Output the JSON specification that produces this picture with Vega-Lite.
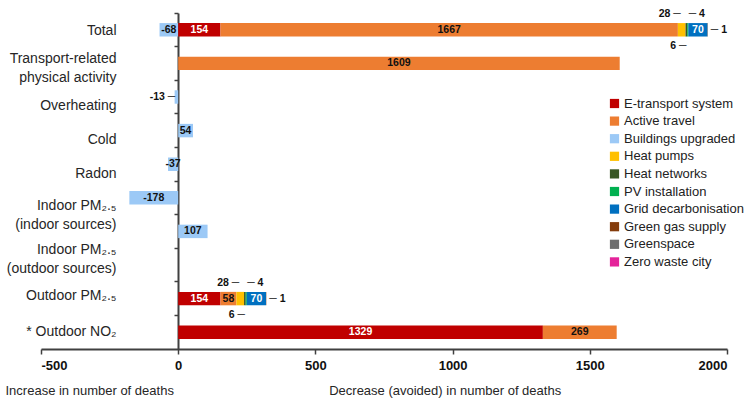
{
  "$schema": "https://vega.github.io/schema/vega-lite/v6.json",
  "autosize": {"type": "none"},
  "width": 686,
  "height": 336,
  "padding": {"left": 41, "top": 13, "right": 25, "bottom": 58},
  "config": {
    "font": "Liberation Sans",
    "view": {"stroke": null},
    "axis": {"grid": false}
  },
  "data": {
    "values": [
      {"cat": "Total", "series": "Buildings upgraded", "v": -68},
      {"cat": "Total", "series": "E-transport system", "v": 154},
      {"cat": "Total", "series": "Active travel", "v": 1667},
      {"cat": "Total", "series": "Heat pumps", "v": 28},
      {"cat": "Total", "series": "Heat networks", "v": 6},
      {"cat": "Total", "series": "PV installation", "v": 4},
      {"cat": "Total", "series": "Grid decarbonisation", "v": 70},
      {"cat": "Total", "series": "Green gas supply", "v": 1},
      {"cat": "Transport-related|physical activity", "series": "Active travel", "v": 1609},
      {"cat": "Overheating", "series": "Buildings upgraded", "v": -13},
      {"cat": "Cold", "series": "Buildings upgraded", "v": 54},
      {"cat": "Radon", "series": "Buildings upgraded", "v": -37},
      {"cat": "Indoor PM₂.₅|(indoor sources)", "series": "Buildings upgraded", "v": -178},
      {"cat": "Indoor PM₂.₅|(outdoor sources)", "series": "Buildings upgraded", "v": 107},
      {"cat": "Outdoor PM₂.₅", "series": "E-transport system", "v": 154},
      {"cat": "Outdoor PM₂.₅", "series": "Active travel", "v": 58},
      {"cat": "Outdoor PM₂.₅", "series": "Heat pumps", "v": 28},
      {"cat": "Outdoor PM₂.₅", "series": "Heat networks", "v": 6},
      {"cat": "Outdoor PM₂.₅", "series": "PV installation", "v": 4},
      {"cat": "Outdoor PM₂.₅", "series": "Grid decarbonisation", "v": 70},
      {"cat": "Outdoor PM₂.₅", "series": "Green gas supply", "v": 1},
      {"cat": "* Outdoor NO₂", "series": "E-transport system", "v": 1329},
      {"cat": "* Outdoor NO₂", "series": "Active travel", "v": 269}
    ]
  },
  "transform": [
    {"calculate": "indexof(['E-transport system','Active travel','Buildings upgraded','Heat pumps','Heat networks','PV installation','Grid decarbonisation','Green gas supply','Greenspace','Zero waste city'], datum.series)", "as": "ord"},
    {"stack": "v", "groupby": ["cat"], "sort": [{"field": "ord", "order": "ascending"}], "as": ["x0", "x1"]},
    {"calculate": "(datum.x0 + datum.x1) / 2", "as": "mid"},
    {"calculate": "'' + datum.v", "as": "num"}
  ],
  "layer": [
    {
      "encoding": {
        "y": {
          "field": "cat",
          "type": "nominal",
          "scale": {
            "domain": ["Total", "Transport-related|physical activity", "Overheating", "Cold", "Radon", "Indoor PM₂.₅|(indoor sources)", "Indoor PM₂.₅|(outdoor sources)", "gap", "Outdoor PM₂.₅", "* Outdoor NO₂"],
            "paddingInner": 0,
            "paddingOuter": 0
          },
          "axis": {
            "orient": "left",
            "offset": -137,
            "labels": false,
            "ticks": true,
            "bandPosition": 0,
            "tickSize": 4,
            "tickWidth": 1.5,
            "tickColor": "#404040",
            "domain": true,
            "domainColor": "#404040",
            "domainWidth": 2,
            "title": null
          }
        }
      },
      "layer": [
        {
          "mark": {"type": "bar", "height": {"band": 0.4}},
          "encoding": {
            "x": {
              "field": "x0",
              "type": "quantitative",
              "scale": {"domain": [-500, 2000], "nice": false},
              "axis": {
                "values": [-500, 0, 500, 1000, 1500, 2000],
                "labelExpr": "'' + datum.value",
                "labelFontWeight": "bold",
                "labelFontSize": 13,
                "labelColor": "#111111",
                "labelPadding": 5,
                "tickSize": 5,
                "tickWidth": 1.5,
                "tickColor": "#404040",
                "domainColor": "#404040",
                "domainWidth": 2,
                "title": "Increase in number of deaths\u00a0\u00a0\u00a0\u00a0\u00a0\u00a0\u00a0\u00a0\u00a0\u00a0\u00a0\u00a0\u00a0\u00a0\u00a0\u00a0\u00a0\u00a0\u00a0\u00a0\u00a0\u00a0\u00a0\u00a0\u00a0\u00a0\u00a0\u00a0\u00a0\u00a0\u00a0\u00a0\u00a0\u00a0\u00a0\u00a0\u00a0\u00a0\u00a0\u00a0\u00a0\u00a0\u00a0Decrease (avoided) in number of deaths",
                "titleFontWeight": "normal",
                "titleFontSize": 13,
                "titleColor": "#262626",
                "titleAnchor": "start",
                "titleAlign": "left",
                "titleX": -36,
                "titleY": 41,
                "titleBaseline": "middle"
              }
            },
            "x2": {"field": "x1"},
            "color": {
              "field": "series",
              "type": "nominal",
              "scale": {
                "domain": ["E-transport system", "Active travel", "Buildings upgraded", "Heat pumps", "Heat networks", "PV installation", "Grid decarbonisation", "Green gas supply", "Greenspace", "Zero waste city"],
                "range": ["#C00000", "#ED7D31", "#9CC9F6", "#FFC000", "#375623", "#00B050", "#0070C0", "#843C0C", "#6E6E6E", "#E4239A"]
              },
              "legend": {
                "orient": "none",
                "legendX": 567,
                "legendY": 84,
                "direction": "vertical",
                "title": null,
                "padding": 0,
                "symbolType": "square",
                "symbolSize": 85,
                "symbolStrokeWidth": 0,
                "labelFontSize": 13,
                "labelColor": "#222222",
                "labelOffset": 3,
                "rowPadding": 3.6
              }
            }
          }
        },
        {
          "mark": {"type": "rule", "color": "#404040", "strokeWidth": 2},
          "encoding": {"x": {"datum": 0, "type": "quantitative"}}
        },
        {
          "transform": [{"filter": "abs(datum.v) > 30"}],
          "mark": {"type": "text", "fontSize": 10.5, "fontWeight": "bold", "align": "center", "baseline": "middle"},
          "encoding": {
            "x": {"field": "mid", "type": "quantitative"},
            "text": {"field": "num"},
            "color": {"condition": {"test": "datum.series === 'E-transport system' || datum.series === 'Grid decarbonisation'", "value": "#FFFFFF"}, "value": "#111111"}
          }
        },
        {
          "transform": [{"filter": "datum.series === 'Heat pumps'"}, {"calculate": "datum.num + ' ─'", "as": "lbl"}],
          "mark": {"type": "text", "fontSize": 10.5, "fontWeight": "bold", "align": "right", "baseline": "middle", "dx": -1, "dy": -16, "color": "#111111"},
          "encoding": {"x": {"field": "mid", "type": "quantitative"}, "text": {"field": "lbl"}}
        },
        {
          "transform": [{"filter": "datum.series === 'PV installation'"}, {"calculate": "'─ ' + datum.num", "as": "lbl"}],
          "mark": {"type": "text", "fontSize": 10.5, "fontWeight": "bold", "align": "left", "baseline": "middle", "dx": 1, "dy": -16, "color": "#111111"},
          "encoding": {"x": {"field": "mid", "type": "quantitative"}, "text": {"field": "lbl"}}
        },
        {
          "transform": [{"filter": "datum.series === 'Heat networks'"}, {"calculate": "datum.num + ' ─'", "as": "lbl"}],
          "mark": {"type": "text", "fontSize": 10.5, "fontWeight": "bold", "align": "right", "baseline": "middle", "dx": 0, "dy": 16, "color": "#111111"},
          "encoding": {"x": {"field": "mid", "type": "quantitative"}, "text": {"field": "lbl"}}
        },
        {
          "transform": [{"filter": "datum.series === 'Green gas supply'"}, {"calculate": "'─ ' + datum.num", "as": "lbl"}],
          "mark": {"type": "text", "fontSize": 10.5, "fontWeight": "bold", "align": "left", "baseline": "middle", "dx": 3, "color": "#111111"},
          "encoding": {"x": {"field": "x1", "type": "quantitative"}, "text": {"field": "lbl"}}
        },
        {
          "transform": [{"filter": "datum.series === 'Buildings upgraded' && abs(datum.v) <= 30"}, {"calculate": "datum.num + ' ─'", "as": "lbl"}],
          "mark": {"type": "text", "fontSize": 10.5, "fontWeight": "bold", "align": "right", "baseline": "middle", "dx": -3, "color": "#111111"},
          "encoding": {"x": {"field": "x0", "type": "quantitative"}, "text": {"field": "lbl"}}
        }
      ]
    },
    {
      "mark": {"type": "text", "opacity": 0},
      "encoding": {
        "text": {"value": ""},
        "y": {
          "field": "cat",
          "type": "nominal",
          "scale": {
            "type": "point",
            "domain": ["Total", "Transport-related|physical activity", "Overheating", "Cold", "Radon", "Indoor PM₂.₅|(indoor sources)", "Indoor PM₂.₅|(outdoor sources)", "Outdoor PM₂.₅", "* Outdoor NO₂"],
            "padding": 0.47
          },
          "axis": {
            "orient": "left",
            "offset": -137,
            "labelPadding": 62,
            "domain": false,
            "ticks": false,
            "title": null,
            "labelFontSize": 14,
            "labelColor": "#262626",
            "labelLineHeight": 19,
            "labelOverlap": false,
            "labelAlign": "right",
            "labelBaseline": "middle",
            "labelOffset": {
              "condition": [
                {"test": "datum.value === 'Transport-related|physical activity'", "value": -10},
                {"test": "datum.value === 'Cold'", "value": -4},
                {"test": "datum.value === 'Radon'", "value": -8},
                {"test": "datum.value === 'Indoor PM₂.₅|(indoor sources)'", "value": -13},
                {"test": "datum.value === 'Indoor PM₂.₅|(outdoor sources)'", "value": -7},
                {"test": "datum.value === 'Outdoor PM₂.₅'", "value": 2}
              ],
              "value": 0
            },
            "labelExpr": "split(datum.value, '|')"
          }
        }
      }
    }
  ],
  "resolve": {"scale": {"y": "independent"}}
}
